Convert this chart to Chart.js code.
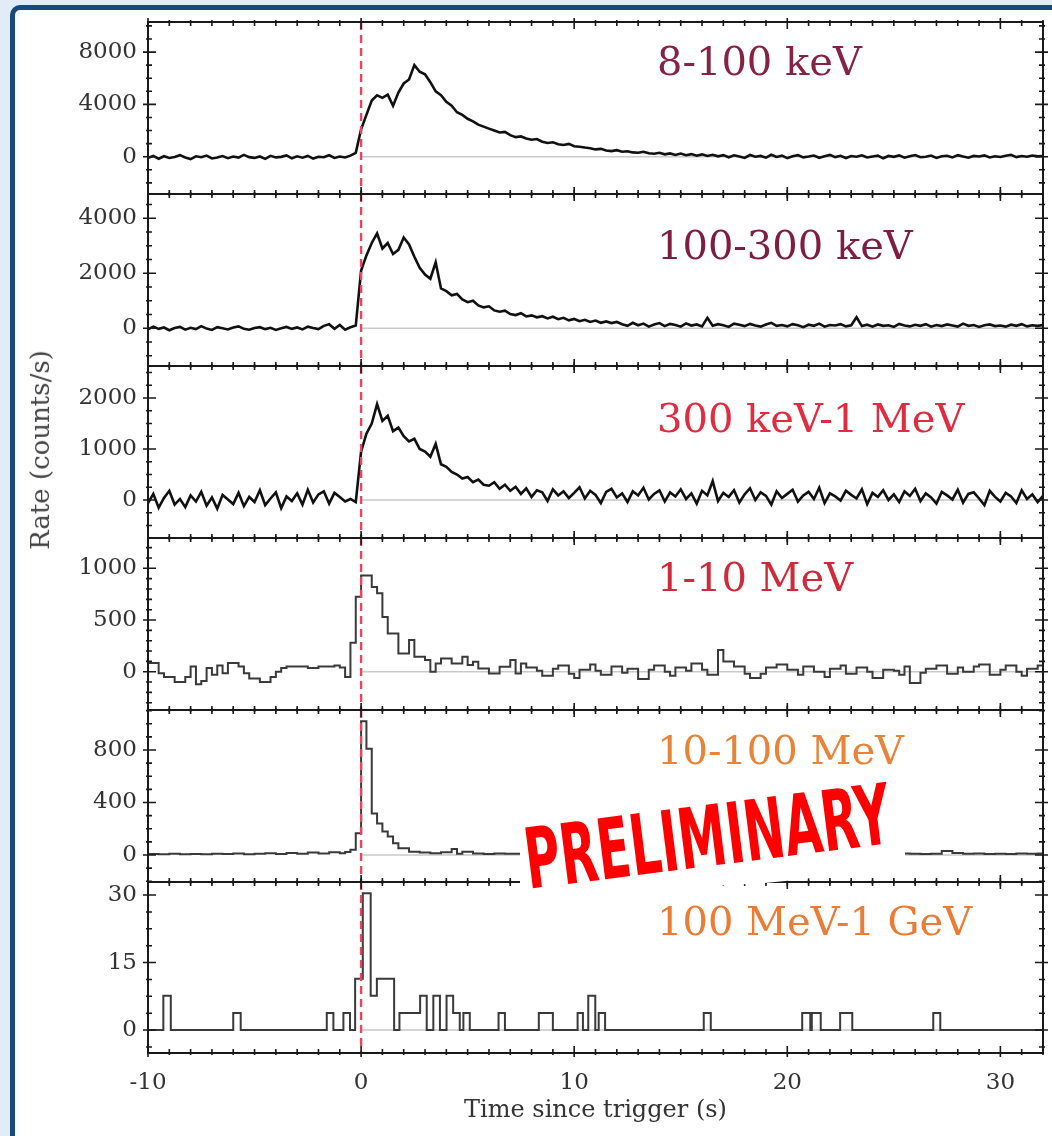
<!DOCTYPE html>
<html>
<head>
<meta charset="utf-8">
<script src="https://cdn.jsdelivr.net/npm/chart.js@4.4.1/dist/chart.umd.min.js"></script>
<style>
  html, body { margin: 0; padding: 0; }
  body { width: 1052px; height: 1136px; background: #e1ecf7; position: relative; overflow: hidden; font-family: "DejaVu Serif", serif; }
  #card { position: absolute; left: 10px; top: 5px; width: 1080px; height: 1170px; box-sizing: border-box;
          border: 5px solid #174a7c; border-radius: 10px; background: #fff; }
  canvas.panel { position: absolute; left: 16px; }
  #ytitle { position: absolute; left: 40px; top: 450px; transform: translate(-50%, -50%) rotate(-90deg);
            font-size: 26px; color: #444; white-space: nowrap; }
  #patch { position: absolute; left: 515px; top: 770px; width: 400px; height: 130px; background: #fff;
           clip-path: polygon(5px 60px, 390px 10px, 390px 90px, 290px 109px, 250px 113px, 130px 120px, 5px 124px); }
  #stamp { position: absolute; left: 0; top: 0; font-family: "DejaVu Sans Condensed", "DejaVu Sans", sans-serif;
           font-weight: bold; font-size: 84px; line-height: 1; color: #f00; white-space: nowrap; }
</style>
</head>
<body>
<div id="card"></div>
<canvas class="panel" id="p0"></canvas>
<canvas class="panel" id="p1"></canvas>
<canvas class="panel" id="p2"></canvas>
<canvas class="panel" id="p3"></canvas>
<canvas class="panel" id="p4"></canvas>
<canvas class="panel" id="p5"></canvas>
<div id="ytitle">Rate (counts/s)</div>
<div id="patch"></div>
<div id="stamp">PRELIMINARY</div>
<script>
// time grid of the binned light curves (s since trigger)
const binStart = -10, binWidth = 0.25, tEnd = 32;

// 8-100 keV, counts/s at each grid time
const rate8to100keV = [
  -80, 60, -150, 40, -100, -20, 120, -60, -180, 30,
  -40, 90, -130, -60, 50, -110, 10, -70, 140, -30,
  -90, 20, -160, 70, -50, -10, 100, -120, 30, -70,
  60, -140, 0, -40, 110, -90, 20, -60, 80, 300,
  2100, 3200, 4300, 4700, 4500, 4750, 3900, 4900, 5600, 5900,
  7000, 6500, 6300, 5700, 5000, 4700, 4200, 3900, 3400, 3200,
  2900, 2700, 2450, 2300, 2150, 2000, 1850, 1900, 1650, 1500,
  1550, 1400, 1300, 1350, 1150, 1050, 1100, 950, 900, 980,
  800, 760, 700, 650, 560, 600, 480, 430, 500, 380,
  420, 330, 300, 380, 260, 230, 300, 180, 250, 140,
  240, 120, 200, 80, 180, 60, 150, 30, 120, -40,
  110, 20, -90, 130, 0, 60, -70, 150, -20, 80,
  -110, 40, 120, -50, 10, 90, -80, 30, 140, -30,
  70, -100, 50, 0, 110, -60, 20, 80, -120, 60,
  -10, 100, -70, 40, 130, -40, 0, 90, -90, 30,
  70, -50, 120, 10, -80, 60, 20, 100, -60, 40,
  -20, 80, 150, -30, 50, 0, 90, 30, 60
];

// 100-300 keV
const rate100to300keV = [
  -40, 60, -20, 30, -70, 10, 50, -50, 20, -30,
  80, -10, -60, 40, 0, -40, 30, 70, -20, -50,
  10, 40, -30, 20, -60, 0, 50, -20, 30, -40,
  60, 10, -30, 90, 150, -20, 120, -50, 40, 100,
  2100, 2650, 3100, 3450, 2900, 3100, 2700, 2850, 3300, 3050,
  2600, 2200, 1950, 1800, 2400, 1450, 1350, 1200, 1250, 1050,
  950, 1000, 830, 760, 800, 650, 600, 640, 520, 480,
  550, 430, 470, 400, 440, 360, 420, 330, 380, 290,
  340, 260, 310, 230, 280, 200, 250, 190, 230, 150,
  90, 200, 110, 170, 60, 140, 190, 80, 160, 120,
  60, 180, 100, 140, 70, 380, 90, 150, 110, 50,
  170, 130, 80, 160, 100, 60, 140, 200, 90, 120,
  70, 150, 110, 40, 130, 90, 170, 60, 120, 100,
  150, 70, 110, 400, 80, 130, 60, 140, 90, 110,
  50, 160, 100, 70, 130, 90, 150, 60, 120, 80,
  140, 100, 60, 170, 90, 120, 50, 110, 140, 80,
  100, 60, 130, 90, 150, 70, 110, 90, 120
];

// 300 keV-1 MeV
const rate300keVto1MeV = [
  -60, 120, -150, 40, 180, -90, 20, -140, 90, -30,
  160, -110, 50, -170, 100, 10, -80, 140, -120, 60,
  -40, 190, -100, 30, 150, -160, 70, -20, 130, -90,
  200, -50, 110, 170, -70, 140, 60, -30, 20, -40,
  950, 1300, 1500, 1880, 1550, 1650, 1350, 1420, 1250, 1150,
  1200, 1000, 950, 850, 1100, 700, 650, 550, 500, 420,
  450, 350, 400, 300, 280, 350, 220, 300, 180, 260,
  120, 230, 60, 190, 150, -20, 210, 90, 170, 40,
  140, 250, 30, 180, 100, -60, 160, 220, 50, 130,
  -40, 170, 90, 240, 10, 120, 190, -30, 150, 70,
  210, 20, 130, -70, 180, 90, 370, -20, 140, 60,
  190, -50, 110, 230, 0, 150, 80, -90, 170, 40,
  120, 200, -30, 90, 160, 20, 240, -60, 130, 70,
  -10, 180, 100, 30, 210, -80, 140, 60, 190, 0,
  110, -40, 170, 80, 220, -20, 130, 50, -70, 160,
  90, 10, 200, -50, 120, 150, 30, -100, 180, 60,
  -30, 140, 70, -60, 190, 20, 110, -40, 80
];

// 1-10 MeV, one value per bin (bin starts on the grid)
const rate1to10MeV = [
  85, 85, -15, -50, -50, -100, -100, -50, 50, -120,
  -90, 35, -30, 60, -15, 85, 85, 50, -15, -65,
  -65, -100, -100, -50, 0, 35, 50, 50, 50, 50,
  35, 35, 50, 50, 50, 60, 40, -50, 280, 725,
  930, 930, 820, 760, 530, 370, 370, 177, 177, 306,
  145, 145, 113, 0, 80, 129, 129, 80, 80, 145,
  64, 97, 32, 32, -16, -16, 48, 48, 113, -16,
  80, 40, 40, 10, -40, -40, 30, 60, 60, -20,
  -60, 20, 20, 70, 10, -30, -30, 50, 50, -10,
  30, 30, -70, -70, 20, 60, 60, 0, -40, 40,
  40, 10, 80, 80, 20, -30, -30, 210, 100, 100,
  50, 50, -20, -60, -60, -20, 40, 40, 70, 70,
  20, 20, -30, 50, 50, 0, 0, -50, 30, 30,
  60, -20, -20, 40, 40, 0, -60, -60, 20, 20,
  10, -30, 50, -110, -110, -10, 30, 30, 60, 60,
  -20, -20, 40, 0, 0, 50, 70, 70, -30, -30,
  20, 60, 60, 0, -40, 30, 30, 60
];

// 10-100 MeV
const rate10to100MeV = [
  8, 8, 5, 5, 10, 10, 6, 6, 8, 8,
  5, 5, 9, 9, 7, 7, 12, 12, 6, 6,
  9, 9, 14, 14, 8, 8, 15, 15, 10, 10,
  18, 18, 12, 12, 20, 20, 14, 22, 40, 165,
  1020, 810, 317, 240, 178, 140, 89, 51, 51, 25,
  25, 18, 18, 14, 14, 20, 20, 45, 10, 25,
  25, 12, 12, 8, 8, 12, 12, 10, 10, 9,
  9, 11, 11, 7, 7, 10, 10, 8, 8, 12,
  12, 9, 9, 7, 7, 11, 11, 8, 8, 10,
  10, 8, 8, 12, 12, 9, 9, 11, 11, 7,
  7, 10, 10, 8, 8, 12, 12, 9, 9, 10,
  10, 8, 8, 11, 11, 9, 9, 7, 7, 10,
  10, 12, 12, 8, 8, 10, 10, 9, 9, 11,
  11, 8, 8, 10, 10, 12, 12, 9, 9, 8,
  8, 11, 11, 9, 9, 7, 7, 10, 10, 30,
  30, 15, 15, 9, 9, 12, 12, 8, 8, 10,
  10, 7, 7, 11, 11, 9, 9, 12
];

// 100 MeV-1 GeV: block start times and the rate held until the next one
const latEdges = [-10, -9.28, -8.93, -6.0, -5.65, -1.61, -1.30, -0.83, -0.52, -0.28,
  0.08, 0.45, 0.74, 1.55, 1.80, 2.77, 3.08, 3.39, 3.70, 4.01,
  4.32, 4.63, 4.80, 5.10, 6.45, 6.75, 8.34, 9.0, 10.16, 10.41,
  10.66, 10.99, 11.15, 11.45, 16.08, 16.41, 20.7, 21.08, 21.15, 21.57,
  22.48, 23.05, 26.85, 27.18, 32];
const latRate = [0, 7.6, 0, 3.8, 0, 3.8, 0, 3.8, 0, 11.4,
  30.4, 7.6, 11.4, 0, 3.8, 7.6, 0, 7.6, 0, 7.6,
  3.8, 0, 3.8, 0, 3.8, 0, 3.8, 0, 3.8, 0,
  7.6, 0, 3.8, 0, 3.8, 0, 3.8, 0, 3.8, 0,
  3.8, 0, 3.8, 0, 0];

const bandLabels = ['8-100 keV', '100-300 keV', '300 keV-1 MeV', '1-10 MeV', '10-100 MeV', '100 MeV-1 GeV'];
const yMajorTicks = [[0, 4000, 8000], [0, 2000, 4000], [0, 1000, 2000], [0, 500, 1000], [0, 400, 800], [0, 15, 30]];
const yMinorStep = [1000, 500, 250, 100, 100, 3.75];
const yRanges = [[-2850, 10300], [-1370, 4880], [-745, 2627], [-370, 1293], [-206, 1105], [-5.1, 32.9]];
const xTickLabels = [-10, 0, 10, 20, 30];

// styling / layout
const bandColors = ['#862342', '#7e1d3d', '#e32b3f', '#d3283a', '#e98338', '#ec7b33'];
const labelDy = [43, 55, 56, 43, 44, 43];
const panelTops = [22, 194, 366, 538, 710, 882];
const plotBottom = 1053;

Chart.defaults.font.family = '"DejaVu Serif", serif';
Chart.defaults.color = '#333';

function linePoints(vals) {
  return vals.map((v, i) => ({x: binStart + i * binWidth, y: v}));
}
function histPoints(vals) {
  const pts = vals.map((v, i) => ({x: binStart + i * binWidth, y: v}));
  pts.push({x: tEnd, y: vals[vals.length - 1]});
  return pts;
}
function edgePoints(edges, vals) {
  return edges.map((t, i) => ({x: t, y: vals[i]}));
}

const series = [
  {pts: linePoints(rate8to100keV), stepped: false},
  {pts: linePoints(rate100to300keV), stepped: false},
  {pts: linePoints(rate300keVto1MeV), stepped: false},
  {pts: histPoints(rate1to10MeV), stepped: true},
  {pts: histPoints(rate10to100MeV), stepped: true},
  {pts: edgePoints(latEdges, latRate), stepped: true}
];

const panelDecor = {
  id: 'panelDecor',
  beforeDatasetsDraw(chart, args, o) {
    const {ctx, chartArea: a, scales: {x, y}} = chart;
    const y0 = y.getPixelForValue(0);
    ctx.save();
    ctx.strokeStyle = '#c9c9c9';
    ctx.lineWidth = 1.5;
    ctx.beginPath();
    ctx.moveTo(x.getPixelForValue(0), y0);
    ctx.lineTo(a.right, y0);
    ctx.stroke();
    ctx.restore();
  },
  afterDatasetsDraw(chart, args, o) {
    const {ctx, chartArea: a, scales: {x, y}} = chart;
    ctx.save();
    // trigger time
    const x0 = x.getPixelForValue(0);
    ctx.strokeStyle = '#e4485f';
    ctx.lineWidth = 2.4;
    ctx.setLineDash([8, 5]);
    ctx.beginPath();
    ctx.moveTo(x0, a.top);
    ctx.lineTo(x0, a.bottom);
    ctx.stroke();
    ctx.setLineDash([]);

    // box
    ctx.strokeStyle = '#1a1a1a';
    ctx.lineWidth = 2;
    ctx.strokeRect(a.left, a.top, a.right - a.left, a.bottom - a.top);

    // time ticks, top and bottom
    ctx.lineWidth = 1.6;
    ctx.beginPath();
    for (let t = -10; t <= tEnd; t++) {
      const px = x.getPixelForValue(t);
      const big = t % 10 === 0;
      const inn = big ? 7 : 4, out = big ? 4 : 2;
      ctx.moveTo(px, a.top - out); ctx.lineTo(px, a.top + inn);
      ctx.moveTo(px, a.bottom + out); ctx.lineTo(px, a.bottom - inn);
    }
    ctx.stroke();

    // rate ticks, left and right
    const majorStep = o.majors[1] - o.majors[0];
    ctx.beginPath();
    for (let n = Math.ceil(y.min / o.minor); n * o.minor <= y.max; n++) {
      const v = n * o.minor;
      const py = y.getPixelForValue(v);
      const big = Math.abs(v / majorStep - Math.round(v / majorStep)) < 1e-9;
      const inn = big ? 8 : 4, out = big ? 5 : 2;
      ctx.moveTo(a.left - out, py); ctx.lineTo(a.left + inn, py);
      ctx.moveTo(a.right + out, py); ctx.lineTo(a.right - inn, py);
    }
    ctx.stroke();

    // band name
    ctx.font = '40px "DejaVu Serif"';
    ctx.fillStyle = o.color;
    ctx.textAlign = 'left';
    ctx.textBaseline = 'middle';
    ctx.fillText(o.label, a.left + 509, a.top + o.dy);
    ctx.restore();
  }
};

series.forEach((s, i) => {
  const last = i === series.length - 1;
  const cv = document.getElementById('p' + i);
  const padTop = 4;
  const h = last ? padTop + (plotBottom - panelTops[i]) + 75 : padTop + 172 + 4;
  cv.width = 1036;
  cv.height = h;
  cv.style.top = (panelTops[i] - padTop) + 'px';

  new Chart(cv, {
    type: 'line',
    data: {
      datasets: [{
        data: s.pts,
        stepped: s.stepped,
        borderColor: i < 3 ? '#111' : '#3a3a3a',
        borderWidth: i < 3 ? 2.6 : 2,
        borderJoinStyle: 'miter',
        pointRadius: 0,
        tension: 0,
        fill: false
      }]
    },
    options: {
      responsive: false,
      animation: false,
      events: [],
      layout: {padding: {top: padTop, bottom: last ? 0 : 4, left: 0, right: 9}},
      plugins: {
        legend: {display: false},
        tooltip: {enabled: false},
        panelDecor: {
          label: bandLabels[i], color: bandColors[i], dy: labelDy[i],
          majors: yMajorTicks[i], minor: yMinorStep[i]
        }
      },
      scales: {
        x: {
          type: 'linear',
          min: binStart,
          max: tEnd,
          display: last,
          grid: {display: false, drawTicks: false},
          border: {display: false},
          ticks: {font: {size: 23}, color: '#333', padding: 16, maxRotation: 0, autoSkip: false,
                  callback: v => String(v)},
          title: {display: last, text: 'Time since trigger (s)', font: {size: 24}, color: '#333',
                  padding: {top: 0, bottom: 3}},
          afterBuildTicks: sc => { sc.ticks = xTickLabels.map(v => ({value: v})); },
          afterFit: sc => { sc.height = last ? 75 : 0; sc.paddingLeft = 0; sc.paddingRight = 0; }
        },
        y: {
          min: yRanges[i][0],
          max: yRanges[i][1],
          grid: {display: false, drawTicks: false},
          border: {display: false},
          ticks: {font: {size: 23}, color: '#333', padding: 11, callback: v => String(v)},
          afterBuildTicks: sc => { sc.ticks = yMajorTicks[i].map(v => ({value: v})); },
          afterFit: sc => { sc.width = 132; sc.paddingTop = 0; sc.paddingBottom = 0; }
        }
      }
    },
    plugins: [panelDecor]
  });
});

// "PRELIMINARY" stamp, squeezed and tilted over the lower panels
const stamp = document.getElementById('stamp');
const sw = stamp.offsetWidth, sh = stamp.offsetHeight;
stamp.style.left = (707 - sw / 2) + 'px';
stamp.style.top = (837 - sh / 2) + 'px';
stamp.style.transform = 'rotate(-7.2deg) scaleX(' + (368 / sw).toFixed(3) + ')';
</script>
</body>
</html>
